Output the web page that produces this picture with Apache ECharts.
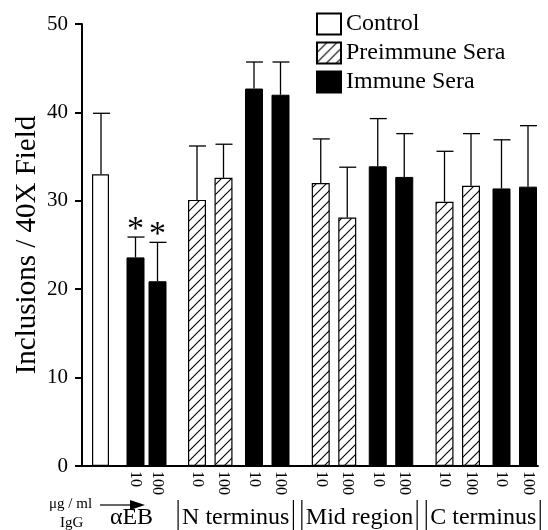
<!DOCTYPE html>
<html>
<head>
<meta charset="UTF-8">
<title></title>
<script src="https://cdn.jsdelivr.net/npm/echarts@6/dist/echarts.min.js"></script>
<style>body{margin:0;background:#fff}</style>
</head>
<body>
<div id="main" style="width:548px;height:530px;"></div>
<script type="text/javascript">
// values
var doseLabels = ['10', '100'];
var groupNames = ['\u03b1EB', 'N terminus', 'Mid region', 'C terminus'];
var controlMean = [33.0];
var controlSD = [6.9];
var aebImmuneMean = [23.6, 20.9];
var aebImmuneSD = [2.3, 4.4];
var aebSignificant = [true, true];
// N terminus 10,100 | Mid region 10,100 | C terminus 10,100
var preimmuneMean = [30.1, 32.6, 32.0, 28.1, 29.9, 31.7];
var preimmuneSD = [6.1, 3.8, 5.0, 5.7, 5.7, 5.9];
var immuneMean = [42.7, 42.0, 33.9, 32.7, 31.4, 31.6];
var immuneSD = [3.0, 3.7, 5.4, 4.9, 5.5, 6.9];
var yTicks = [0, 10, 20, 30, 40, 50];

var FONT = 'Liberation Serif';

// layout of the bar slots along the x axis
var xControl = 19;
var xAeb = [53.5, 75.5];
function groupX(g, kind, d) {
    var start = 115 + g * 123.75;
    return start + (kind == 'imm' ? 57 : 0) + (d == 1 ? 26.5 : 0);
}

// hatch pattern for preimmune bars
var hatch = document.createElement('canvas');
hatch.width = 10; hatch.height = 10;
var hc = hatch.getContext('2d');
hc.fillStyle = '#fff'; hc.fillRect(0, 0, 10, 10);
hc.strokeStyle = '#000'; hc.lineWidth = 1.1;
hc.beginPath();
hc.moveTo(-1, 11); hc.lineTo(11, -1);
hc.moveTo(-1, 1); hc.lineTo(1, -1);
hc.moveTo(9, 11); hc.lineTo(11, 9);
hc.stroke();

var controlData = [[xControl, controlMean[0]]];
var preData = [], immData = [], errData = [], doseAt = {}, groupData = [];
for (var i = 0; i < 2; i++) {
    immData.push([xAeb[i], aebImmuneMean[i]]);
    errData.push([xAeb[i], aebImmuneMean[i], aebImmuneMean[i] + aebImmuneSD[i], aebSignificant[i] ? 1 : 0]);
    doseAt[xAeb[i]] = doseLabels[i];
}
errData.push([xControl, controlMean[0], controlMean[0] + controlSD[0], 0]);
groupData.push([(xAeb[0] + xAeb[1]) / 2 - 15, 0, 0]);
for (var g = 0; g < 3; g++) {
    for (var d = 0; d < 2; d++) {
        var k = g * 2 + d;
        var xp = groupX(g, 'pre', d), xi = groupX(g, 'imm', d);
        preData.push([xp, preimmuneMean[k]]);
        immData.push([xi, immuneMean[k]]);
        errData.push([xp, preimmuneMean[k], preimmuneMean[k] + preimmuneSD[k], 0]);
        errData.push([xi, immuneMean[k], immuneMean[k] + immuneSD[k], 0]);
        doseAt[xp] = doseLabels[d];
        doseAt[xi] = doseLabels[d];
    }
    groupData.push([(groupX(g, 'pre', 0) + groupX(g, 'imm', 1)) / 2 - 3, 0, 1]);
}
var doseValues = Object.keys(doseAt).map(Number);

var measure = document.createElement('canvas').getContext('2d');
measure.font = '24px "' + FONT + '"';

var myChart = echarts.init(document.getElementById('main'));
var option = {
    animation: false,
    backgroundColor: '#fff',
    grid: { left: 82, right: 10, top: 24, bottom: 64, outerBoundsMode: 'none', containLabel: false },
    legend: {
        orient: 'vertical',
        left: 311, top: 7,
        itemWidth: 24, itemHeight: 21, itemGap: 5,
        icon: 'rect',
        textStyle: { fontFamily: FONT, fontSize: 24, color: '#000' },
        data: ['Control', 'Preimmune Sera', 'Immune Sera']
    },
    xAxis: {
        type: 'value', min: 0, max: 456,
        splitLine: { show: false },
        axisLine: { lineStyle: { color: '#000', width: 2 } },
        axisTick: { show: false },
        axisLabel: {
            customValues: doseValues,
            rotate: -90, margin: 5,
            fontFamily: FONT, fontSize: 16, color: '#000',
            formatter: function (v) { return doseAt[v] || ''; }
        }
    },
    yAxis: {
        type: 'value', min: 0, max: 50, interval: 10,
        name: 'Inclusions / 40X Field',
        nameLocation: 'middle', nameGap: 40, nameRotate: 90, nameMoveOverlap: false,
        nameTextStyle: { fontFamily: FONT, fontSize: 29, color: '#000' },
        splitLine: { show: false },
        axisLine: { show: true, lineStyle: { color: '#000', width: 2 } },
        axisTick: { show: true, length: 7, lineStyle: { color: '#000', width: 2 } },
        axisLabel: {
            margin: 14, fontFamily: FONT, fontSize: 21, color: '#000',
            formatter: function (v) { return yTicks.indexOf(v) >= 0 ? String(v) : ''; }
        }
    },
    series: [
        {
            name: 'Control', type: 'bar', barWidth: 17, barGap: '-100%',
            itemStyle: { color: '#fff', borderColor: '#000', borderWidth: 1.2 },
            data: controlData
        },
        {
            name: 'Preimmune Sera', type: 'bar', barWidth: 18, barGap: '-100%',
            itemStyle: { color: { image: hatch, repeat: 'repeat' }, borderColor: '#000', borderWidth: 1.2 },
            data: preData
        },
        {
            name: 'Immune Sera', type: 'bar', barWidth: 18, barGap: '-100%',
            itemStyle: { color: '#000', borderColor: '#000', borderWidth: 1 },
            data: immData
        },
        {
            type: 'custom', z: 5,
            data: errData,
            renderItem: function (params, api) {
                var base = api.coord([api.value(0), api.value(1)]);
                var top = api.coord([api.value(0), api.value(2)]);
                var st = { stroke: '#000', lineWidth: 1.3 };
                var kids = [
                    { type: 'line', shape: { x1: base[0], y1: base[1], x2: top[0], y2: top[1] }, style: st },
                    { type: 'line', shape: { x1: top[0] - 8, y1: top[1], x2: top[0] + 9, y2: top[1] }, style: st }
                ];
                if (api.value(3)) {
                    kids.push({ type: 'text', style: { text: '*', x: top[0], y: top[1] + 10, align: 'center', verticalAlign: 'bottom',
                        font: '34px "' + FONT + '"', fill: '#000' } });
                }
                return { type: 'group', children: kids };
            }
        },
        {
            type: 'custom', z: 5, clip: false, silent: true,
            data: groupData,
            renderItem: function (params, api) {
                var p = api.coord([api.value(0), 0]);
                var name = groupNames[params.dataIndex];
                var kids = [{ type: 'text', style: { text: name, x: p[0], y: 518, align: 'center', verticalAlign: 'middle',
                    font: '24px "' + FONT + '"', fill: '#000' } }];
                if (api.value(2)) {
                    var w = measure.measureText(name).width / 2 + 4;
                    var st = { stroke: '#000', lineWidth: 1.2 };
                    kids.push({ type: 'line', shape: { x1: p[0] - w, y1: 500, x2: p[0] - w, y2: 530 }, style: st });
                    kids.push({ type: 'line', shape: { x1: p[0] + w, y1: 500, x2: p[0] + w, y2: 530 }, style: st });
                }
                return { type: 'group', children: kids };
            }
        }
    ],
    graphic: [
        { type: 'text', left: 49, top: 497, style: { text: '\u03bcg / ml', font: '15px "' + FONT + '"', fill: '#000' } },
        { type: 'text', left: 60, top: 516, style: { text: 'IgG', font: '15px "' + FONT + '"', fill: '#000' } },
        { type: 'line', shape: { x1: 100, y1: 505, x2: 132, y2: 505 }, style: { stroke: '#000', lineWidth: 1.2 } },
        { type: 'polygon', shape: { points: [[130, 500], [145, 505], [130, 510]] }, style: { fill: '#000' } }
    ]
};
myChart.setOption(option);
</script>
</body>
</html>
